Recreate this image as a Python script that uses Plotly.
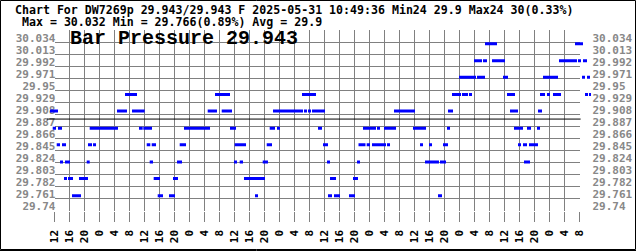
import plotly.graph_objects as go

W, H = 636, 251

# ---------------- data ----------------
# Pressure levels in inHg (whole hPa steps 1017 ... 1008)
levels_inhg = [30.032, 30.002, 29.973, 29.943, 29.914, 29.884, 29.855, 29.825, 29.796, 29.766]

# Time spans (hours after 12:00 of the first day) during which the reading sat at each level
spans_30_032 = [(114.8, 118.0), (138.8, 140.93)]
spans_30_002 = [(111.87, 114.0), (114.27, 115.33), (116.67, 120.13), (134.53, 139.33), (139.6, 140.4), (140.93, 142.0)]
spans_29_973 = [(107.87, 112.4), (112.67, 114.8), (119.6, 120.93), (130.27, 134.27), (140.67, 141.47), (142.0, 142.8)]
spans_29_943 = [(18.8, 22.0), (42.8, 46.8), (66.0, 69.73), (106.0, 108.4), (108.67, 110.27), (110.53, 111.33),
                (120.67, 122.8), (129.47, 130.8), (131.33, 132.13), (132.93, 135.07), (141.47, 142.27), (142.53, 143.07)]
spans_29_914 = [(-1.2, 0.93), (16.67, 19.33), (20.67, 24.05), (40.85, 43.33), (44.59, 47.33), (58.27, 66.27),
                (66.53, 67.33), (67.6, 68.4), (68.67, 72.13), (90.53, 96.13), (104.93, 106.27), (121.47, 123.6),
                (128.93, 130.0)]
spans_29_884 = [(-0.48, 0.4), (0.93, 2.0), (9.39, 16.93), (22.53, 23.52), (23.68, 26.0), (34.53, 41.47),
                (46.8, 48.4), (57.39, 58.8), (59.33, 60.13), (70.27, 71.33), (82.27, 85.73), (86.0, 86.8),
                (87.87, 91.07), (95.6, 99.07), (104.67, 105.47), (122.53, 124.93), (126.0, 127.07), (128.67, 129.47)]
spans_29_855 = [(0.59, 1.47), (2.0, 3.07), (8.93, 10.0), (10.27, 11.07), (24.59, 25.55), (25.92, 27.07),
                (33.39, 35.07), (48.05, 51.07), (56.59, 58.0), (71.6, 72.93), (81.07, 82.93), (83.25, 84.13),
                (84.67, 88.4), (88.67, 89.47), (97.47, 98.27), (99.87, 100.67), (103.6, 104.93), (123.6, 124.4),
                (124.93, 126.0), (126.53, 128.93)]
spans_29_825 = [(1.47, 2.27), (2.8, 4.13), (8.59, 9.39), (25.39, 26.27), (32.67, 34.0), (47.87, 48.67),
                (49.39, 50.27), (55.52, 56.93), (72.67, 73.47), (80.67, 81.47), (98.8, 102.53), (102.8, 104.4),
                (125.2, 126.8)]
spans_29_796 = [(2.53, 3.33), (3.6, 4.93), (6.53, 8.93), (26.45, 28.13), (31.6, 32.93), (50.53, 56.13),
                (73.47, 75.07), (79.6, 80.93)]
spans_29_766 = [(4.67, 7.07), (27.52, 28.93), (30.53, 32.13), (53.47, 54.27), (72.93, 74.0), (74.53, 76.13),
                (78.53, 80.13), (102.27, 103.33)]

all_spans = [spans_30_032, spans_30_002, spans_29_973, spans_29_943, spans_29_914,
             spans_29_884, spans_29_855, spans_29_825, spans_29_796, spans_29_766]

average_inhg = 29.9

# axis ticks
x_tick_hours = [0, 4, 8, 12, 16, 20, 24, 28, 32, 36, 40, 44, 48, 52, 56, 60, 64, 68, 72, 76, 80, 84,
                88, 92, 96, 100, 104, 108, 112, 116, 120, 124, 128, 132, 136, 140]
x_tick_labels = ["12", "16", "20", "0", "4", "8"] * 6
y_tick_values = [29.74, 29.761, 29.782, 29.803, 29.824, 29.845, 29.866, 29.887, 29.908, 29.929,
                 29.95, 29.971, 29.992, 30.013, 30.034]
y_tick_labels = ["29.74", "29.761", "29.782", "29.803", "29.824", "29.845", "29.866", "29.887",
                 "29.908", "29.929", "29.95", "29.971", "29.992", "30.013", "30.034"]

title_line1 = "Chart For DW7269p 29.943/29.943 F 2025-05-31 10:49:36 Min24 29.9 Max24 30(0.33%)"
title_line2 = "Max = 30.032 Min = 29.766(0.89%) Avg = 29.9"
big_title = "Bar Pressure 29.943"

# ---------------- layout geometry (pixels) ----------------
PX_PER_H = 3.75
X0_PX = 54.5            # pixel of hour 0
PLOT_L, PLOT_R = 54.5, 579.5
PLOT_T, PLOT_B = 30.0, 210.5
Y_MIN = 29.74
INHG_PER_PX = 0.021 / 12.0
Y_MAX = Y_MIN + (PLOT_B - PLOT_T) * INHG_PER_PX

DATA_L, DATA_R = 39.5, 599.5
data_range = [(DATA_L - X0_PX) / PX_PER_H, (DATA_R - X0_PX) / PX_PER_H]

def px_x(p):
    return p / W

def px_y(p):
    return 1 - p / H

GRID = "#808080"
LABEL_GRAY = "#888888"
MONO = "DejaVu Sans Mono"

fig = go.Figure()

# data segments
for lvl, spans in zip(levels_inhg, all_spans):
    xs, ys = [], []
    for s, e in spans:
        xs += [s, e, None]
        ys += [lvl, lvl, None]
    fig.add_trace(go.Scatter(x=xs, y=ys, mode="lines", xaxis="x2", yaxis="y2",
                             line=dict(color="#0000ff", width=3), hoverinfo="skip",
                             showlegend=False))

# average line
fig.add_trace(go.Scatter(x=[-2, 140.3], y=[average_inhg, average_inhg], mode="lines",
                         xaxis="x2", yaxis="y2", line=dict(color="#000000", width=1),
                         hoverinfo="skip", showlegend=False))

# invisible traces to create the axes
fig.add_trace(go.Scatter(x=[None], y=[None], xaxis="x", yaxis="y3", showlegend=False))
fig.add_trace(go.Scatter(x=[None], y=[None], xaxis="x", yaxis="y", showlegend=False))

tick_font = dict(family=MONO, size=11, color=LABEL_GRAY, weight="bold")

fig.update_layout(
    width=W, height=H,
    margin=dict(l=0, r=0, t=0, b=0),
    paper_bgcolor="white",
    plot_bgcolor="rgba(0,0,0,0)",
    showlegend=False,
    xaxis=dict(domain=[px_x(PLOT_L), px_x(PLOT_R)], range=[0, 140], tickmode="array",
               tickvals=x_tick_hours, ticktext=x_tick_labels, tickangle=-90,
               showgrid=True, gridcolor=GRID, gridwidth=1, zeroline=False,
               ticks="outside", ticklen=10, tickcolor=GRID, tickwidth=1,
               showline=False, automargin=False, ticklabelstandoff=4,
               tickfont=dict(family=MONO, size=11, color="#000000", weight="bold"),
               anchor="y"),
    yaxis=dict(domain=[px_y(PLOT_B), px_y(PLOT_T)], range=[Y_MIN, Y_MAX], tickmode="array",
               tickvals=y_tick_values, ticktext=y_tick_labels, showgrid=True, gridcolor=GRID,
               gridwidth=1, zeroline=False, ticks="", showline=False, automargin=False,
               ticklabelshift=-4, ticklabelstandoff=-2, tickfont=tick_font, anchor="x"),
    yaxis3=dict(overlaying="y", side="right", range=[Y_MIN, Y_MAX], tickmode="array",
                tickvals=y_tick_values, ticktext=y_tick_labels, showgrid=False, zeroline=False,
                ticks="", showline=False, automargin=False, ticklabelshift=-4,
                ticklabelstandoff=12, tickfont=tick_font, anchor="x"),
    xaxis2=dict(domain=[px_x(DATA_L), px_x(DATA_R)], range=data_range, visible=False,
                anchor="y2"),
    yaxis2=dict(domain=[px_y(PLOT_B), px_y(PLOT_T)], range=[Y_MIN, Y_MAX], visible=False,
                anchor="x2"),
)

small_font = dict(family=MONO, size=11.6, color="#000000", weight="bold")
fig.add_annotation(text=title_line1, x=px_x(15), y=px_y(3), xref="paper", yref="paper",
                   xanchor="left", yanchor="top", showarrow=False, borderpad=0, borderwidth=0,
                   font=small_font)
fig.add_annotation(text=title_line2, x=px_x(22), y=px_y(15.5), xref="paper", yref="paper",
                   xanchor="left", yanchor="top", showarrow=False, borderpad=0, borderwidth=0,
                   font=small_font)
fig.add_annotation(text=big_title, x=px_x(70), y=px_y(27), xref="paper", yref="paper",
                   xanchor="left", yanchor="top", showarrow=False, borderpad=0, borderwidth=0,
                   font=dict(family="Liberation Mono", size=20, color="#000000", weight="bold"))

# image frame
fig.add_shape(type="rect", xref="paper", yref="paper", x0=px_x(0.5), x1=px_x(635.5),
              y0=px_y(249.5), y1=px_y(0.5), line=dict(color="#000000", width=1))
fig.add_shape(type="line", xref="paper", yref="paper", x0=0, x1=1,
              y0=px_y(250.5), y1=px_y(250.5), line=dict(color="#000000", width=1))

fig.write_html("out.html", config={"displayModeBar": False})
